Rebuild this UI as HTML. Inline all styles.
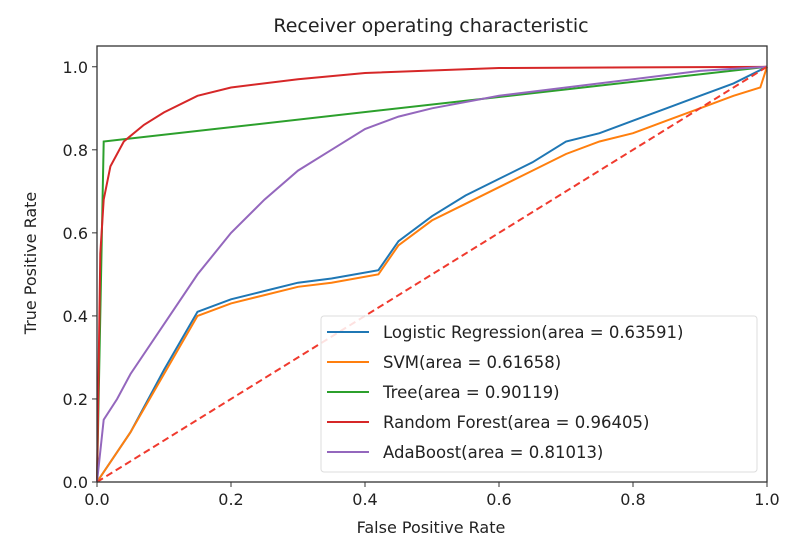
<!DOCTYPE html>
<html><head><meta charset="utf-8"><style>
body{margin:0;background:#fff;}
svg{display:block;font-family:"DejaVu Sans","Liberation Sans",sans-serif;}
</style></head><body>
<svg id="chart" width="812" height="560">
<text x="431" y="32" font-size="19" text-anchor="middle" fill="#222">Receiver operating characteristic</text>
<g id="plot"></g>
<text x="431" y="533" font-size="16" text-anchor="middle" fill="#222">False Positive Rate</text>
<text transform="translate(36,263) rotate(-90)" font-size="16" text-anchor="middle" fill="#222">True Positive Rate</text>
</svg>
<script>
const seriesNames=["Logistic Regression(area = 0.63591)","SVM(area = 0.61658)","Tree(area = 0.90119)","Random Forest(area = 0.96405)","AdaBoost(area = 0.81013)"];
const colors=["#1f77b4","#ff7f0e","#2ca02c","#d62728","#9467bd"];
const lrFpr=[0,0.05,0.1,0.15,0.2,0.25,0.3,0.35,0.42,0.45,0.5,0.55,0.6,0.65,0.7,0.75,0.8,0.85,0.9,0.95,1];
const lrTpr=[0,0.12,0.27,0.41,0.44,0.46,0.48,0.49,0.51,0.58,0.64,0.69,0.73,0.77,0.82,0.84,0.87,0.9,0.93,0.96,1];
const svmFpr=[0,0.05,0.1,0.15,0.2,0.25,0.3,0.35,0.42,0.45,0.5,0.55,0.6,0.65,0.7,0.75,0.8,0.85,0.9,0.95,0.99,1];
const svmTpr=[0,0.12,0.26,0.4,0.43,0.45,0.47,0.48,0.5,0.57,0.63,0.67,0.71,0.75,0.79,0.82,0.84,0.87,0.9,0.93,0.95,1];
const treeFpr=[0,0.01,1];
const treeTpr=[0,0.82,1];
const rfFpr=[0,0.005,0.01,0.02,0.04,0.07,0.1,0.15,0.2,0.3,0.4,0.6,1];
const rfTpr=[0,0.55,0.68,0.76,0.82,0.86,0.89,0.93,0.95,0.97,0.985,0.997,1];
const adaFpr=[0,0.01,0.03,0.05,0.1,0.15,0.2,0.25,0.3,0.35,0.4,0.45,0.5,0.6,0.7,0.8,0.9,1];
const adaTpr=[0,0.15,0.2,0.26,0.38,0.5,0.6,0.68,0.75,0.8,0.85,0.88,0.9,0.93,0.95,0.97,0.99,1];
const xTicks=[0,0.2,0.4,0.6,0.8,1.0];
const yTicks=[0,0.2,0.4,0.6,0.8,1.0];
const X0=97,X1=767,YB=482,YT=46;
const sx=v=>X0+v*(X1-X0);
const sy=v=>YB-v*(YB-YT)/1.05;
const NS="http://www.w3.org/2000/svg";
const g=document.getElementById('plot');
function mk(t,a,p){const e=document.createElementNS(NS,t);for(const k in a)e.setAttribute(k,a[k]);(p||g).appendChild(e);return e;}
const all=[[lrFpr,lrTpr],[svmFpr,svmTpr],[treeFpr,treeTpr],[rfFpr,rfTpr],[adaFpr,adaTpr]];
const keys=["logistic","svm","tree","random-forest","adaboost"];
all.forEach((s,i)=>{
 const d=s[0].map((v,j)=>(j?'L':'M')+sx(v).toFixed(1)+','+sy(s[1][j]).toFixed(1)).join('');
 const p=mk('path',{d:d,fill:'none',stroke:colors[i],'stroke-width':2});
 
 
});
const diag=mk('line',{x1:sx(0),y1:sy(0),x2:sx(1),y2:sy(1),stroke:'#f03a2e','stroke-width':2,'stroke-dasharray':'7,4'});


const frame=mk('rect',{x:X0,y:YT,width:X1-X0,height:YB-YT,fill:'none',stroke:'#333','stroke-width':1.3});


xTicks.forEach(v=>{
 mk('line',{x1:sx(v),x2:sx(v),y1:YB,y2:YB+5,stroke:'#333'});
 const t=mk('text',{x:sx(v),y:YB+23,'font-size':16,'text-anchor':'middle',fill:'#222'});
 t.textContent=v.toFixed(1);
 
 
});
yTicks.forEach(v=>{
 mk('line',{x1:X0-5,x2:X0,y1:sy(v),y2:sy(v),stroke:'#333'});
 const t=mk('text',{x:X0-9,y:sy(v)+6,'font-size':16,'text-anchor':'end',fill:'#222'});
 t.textContent=v.toFixed(1);
 
 
});
const leg=mk('g',{});


mk('rect',{x:321,y:316,width:436,height:156,rx:3,fill:'#fff','fill-opacity':0.85,stroke:'#ddd'},leg);
seriesNames.forEach((n,i)=>{
 const y=332+i*30;
 const e=mk('g',{},leg);
 
 
 mk('line',{x1:327,x2:369,y1:y,y2:y,stroke:colors[i],'stroke-width':2},e);
 const t=mk('text',{x:383,y:y+6,'font-size':16.5,fill:'#222'},e);
 t.textContent=n;
});
</script>
</body></html>
